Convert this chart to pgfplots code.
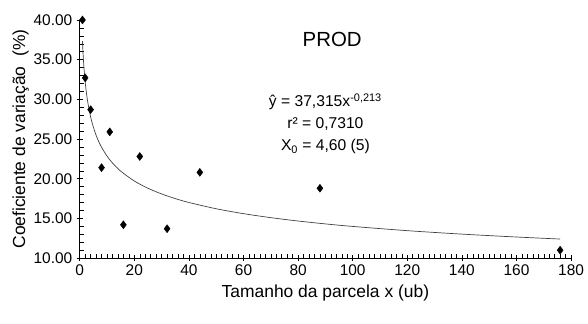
\documentclass[border=0pt]{standalone}
\usepackage{fontspec}
\setmainfont{Liberation Sans}
\usepackage{pgfplots}
\pgfplotsset{compat=1.18}

\begin{document}
\begin{tikzpicture}
\useasboundingbox (-80bp,-66bp) rectangle (510bp,259bp);
\begin{axis}[
  scale only axis,
  width=493bp, height=239bp,
  xmin=0, xmax=180, ymin=10, ymax=40,
  axis lines=left,
  axis line style={-, black, line width=0.6pt},
  xtick={0,20,...,180},
  ytick={10,15,...,40},
  minor x tick num=9,
  minor y tick num=4,
  tick align=center,
  major tick length=6bp,
  minor tick length=4bp,
  every minor x tick/.append style={yshift=2bp},
  every minor y tick/.append style={xshift=2bp},
  tick style={black, line width=0.5pt},
  /pgf/number format/assume math mode=true,
  yticklabel style={/pgf/number format/fixed, /pgf/number format/fixed zerofill, /pgf/number format/precision=2, font=\fontsize{15.5bp}{17bp}\selectfont, xshift=-1bp},
  xticklabel style={font=\fontsize{15.5bp}{17bp}\selectfont},
  xlabel={Tamanho da parcela x (ub)},
  ylabel={Coeficiente de variação\ \ (\%)},
  label style={font=\fontsize{17.5bp}{20bp}\selectfont},
  xlabel style={yshift=-2bp},
  ylabel style={yshift=-2bp},
  clip=false,
]
% observed coefficients of variation
\addplot[only marks, mark=diamond*, mark size=4bp, black] coordinates {
  (1,40.0) (2,32.7) (4,28.7) (8,21.4) (11,25.9) (16,14.2)
  (22,22.8) (32,13.7) (44,20.8) (88,18.8) (176,11.0)
};
% fitted power curve y = 37.315 x^(-0.213)
\addplot[no marks, smooth, color=black!75, line width=0.7pt] coordinates {
  (1,37.315) (1.25,35.583) (1.5,34.228) (2,32.193) (2.5,30.699) (3,29.529)
  (4,27.775) (5,26.486) (6,25.477) (7,24.654) (8,23.963) (10,22.850)
  (12,21.980) (15,20.960) (20,19.714) (25,18.799) (30,18.083) (35,17.499)
  (40,17.008) (50,16.218) (60,15.601) (70,15.097) (80,14.673) (90,14.310)
  (100,13.992) (120,13.459) (140,13.024) (160,12.659) (176,12.404)
};
\node[font=\fontsize{20.5bp}{22bp}\selectfont] at (axis cs:92.5,37.6) {PROD};
\node[align=center, font=\fontsize{15.7bp}{22bp}\selectfont] at (axis cs:90,26.9)
  {ŷ = 37,315x\textsuperscript{-0,213}\\ r² = 0,7310\\ X\textsubscript{0} = 4,60 (5)};
\end{axis}
\end{tikzpicture}
\end{document}
